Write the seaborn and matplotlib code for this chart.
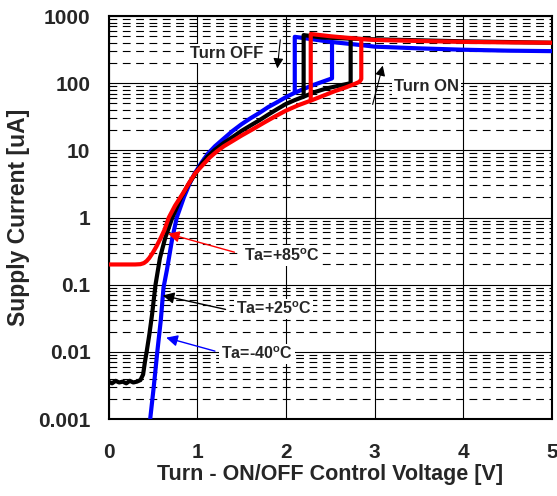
import matplotlib
matplotlib.use("Agg")
import matplotlib.pyplot as plt
import numpy as np
import pandas as pd
import seaborn as sns
from matplotlib.ticker import FixedLocator, FixedFormatter, NullFormatter

# ---------------- data ----------------
# Ta = -40 C (blue)
m40_lx = [0.47, 0.51, 0.55, 0.59, 0.62, 0.66, 0.72, 0.77, 0.85, 0.91, 0.97,
          1.05, 1.12, 1.20, 1.30, 1.40, 1.50, 1.60, 1.70, 1.80, 1.90, 2.00,
          2.10, 2.30, 2.52]
m40_ly = [0.001, 0.003, 0.01, 0.03, 0.09, 0.17, 0.5, 1.0, 2.0, 3.1, 4.5,
          6.6, 8.9, 11.5, 15, 19.5, 24.5, 30, 36, 44, 52, 62,
          72, 93, 118]
m40_off, m40_on = 2.10, 2.52
m40_px = [2.10, 2.30, 2.52, 2.80, 3.00, 3.50, 4.00, 4.50, 5.00]
m40_py = [490, 450, 410, 375, 350, 330, 315, 305, 300]

# Ta = +25 C (black)
p25_lx = [0.00, 0.04, 0.08, 0.12, 0.16, 0.20, 0.24, 0.28, 0.32, 0.36, 0.39,
          0.41, 0.43, 0.46, 0.49, 0.53, 0.58, 0.64, 0.72, 0.82, 0.90, 0.98,
          1.05, 1.12, 1.20, 1.30, 1.40, 1.50, 1.60, 1.70, 1.80, 1.90, 2.00,
          2.10, 2.20, 2.33, 2.45, 2.60, 2.73]
p25_ly = [0.0036, 0.0034, 0.0037, 0.0035, 0.0036, 0.0034, 0.0037, 0.0035, 0.0036,
          0.0038, 0.0046, 0.007, 0.01, 0.018, 0.035, 0.1, 0.25, 0.5, 1.0, 2.0,
          3.1, 4.5, 6.3, 8.1, 10.2, 12.9, 15.8, 19.5, 23.4, 28, 34, 41, 49,
          56, 63, 74, 83, 92, 100]
p25_off, p25_on = 2.20, 2.73
p25_px = [2.20, 2.40, 2.73, 3.00, 3.50, 4.00, 4.50, 5.00]
p25_py = [520, 480, 460, 450, 435, 420, 410, 400]

# Ta = +85 C (red)
p85_lx = [0.00, 0.30, 0.36, 0.40, 0.43, 0.46, 0.50, 0.54, 0.59, 0.63, 0.68,
          0.75, 0.84, 0.91, 0.98, 1.06, 1.14, 1.22, 1.30, 1.40, 1.50, 1.62,
          1.75, 1.87, 2.00, 2.14, 2.28, 2.42, 2.55, 2.68, 2.78, 2.83, 2.85]
p85_ly = [0.2, 0.2, 0.202, 0.21, 0.225, 0.25, 0.3, 0.37, 0.5, 0.65, 1.0,
          1.5, 2.3, 3.3, 4.6, 6.0, 7.8, 9.6, 11.5, 13.8, 16.6, 20.4,
          25.7, 31.6, 39, 47, 55, 65, 76, 87, 98, 105, 115]
p85_off, p85_on = 2.28, 2.85
p85_px = [2.28, 2.50, 2.85, 3.00, 3.50, 4.00, 4.50, 5.00]
p85_py = [540, 500, 455, 440, 425, 412, 405, 400]

y_ticks = [0.001, 0.01, 0.1, 1, 10, 100, 1000]
y_tick_labels = ["0.001", "0.01", "0.1", "1", "10", "100", "1000"]
x_ticks = [0, 1, 2, 3, 4, 5]
x_tick_labels = ["0", "1", "2", "3", "4", "5"]


def build(name, lx, ly, x_off, x_on, px, py):
    rows = []
    i_off = lx.index(x_off)
    i_on = lx.index(x_on)
    # branch A: lower curve up to turn-OFF point, jump, then high branch to 5 V
    for x, y in zip(lx[:i_off + 1], ly[:i_off + 1]):
        rows.append((x, y, name, name + "A"))
    for x, y in zip(px, py):
        rows.append((x, y, name, name + "A"))
    # branch B: lower curve from turn-OFF to turn-ON point, then jump up
    for x, y in zip(lx[i_off:i_on + 1], ly[i_off:i_on + 1]):
        rows.append((x, y, name, name + "B"))
    rows.append((x_on, py[px.index(x_on)], name, name + "B"))
    return rows


rows = []
rows += build("-40", m40_lx, m40_ly, m40_off, m40_on, m40_px, m40_py)
rows += build("+25", p25_lx, p25_ly, p25_off, p25_on, p25_px, p25_py)
rows += build("+85", p85_lx, p85_ly, p85_off, p85_on, p85_px, p85_py)
df = pd.DataFrame(rows, columns=["V", "I", "Ta", "seg"])

# ---------------- style ----------------
sns.set_style("white")
plt.rcParams["font.family"] = ["Liberation Sans", "DejaVu Sans"]
plt.rcParams["font.weight"] = "bold"
plt.rcParams["mathtext.fontset"] = "custom"
plt.rcParams["mathtext.rm"] = "Liberation Sans:bold"
plt.rcParams["mathtext.bf"] = "Liberation Sans:bold"
plt.rcParams["mathtext.default"] = "bf"

fig = plt.figure(figsize=(5.57, 4.96), dpi=100)
ax = fig.add_axes([0.1948, 0.1552, 0.7962, 0.8125])

palette = {"-40": "#0000FF", "+25": "#000000", "+85": "#FF0000"}
sns.lineplot(data=df, x="V", y="I", hue="Ta", units="seg", estimator=None,
             sort=False, palette=palette, hue_order=["-40", "+25", "+85"],
             linewidth=3.0, legend=False, ax=ax, zorder=3)
for ln in ax.get_lines():
    ln.set_solid_joinstyle("round")
    ln.set_solid_capstyle("butt")

ax.set_yscale("log")
ax.set_xlim(0, 5)
ax.set_ylim(0.001, 1000)

ax.yaxis.set_major_locator(FixedLocator(y_ticks))
ax.yaxis.set_major_formatter(FixedFormatter(y_tick_labels))
minor_y = [m * 10.0 ** e for e in range(-3, 3) for m in range(2, 10)]
ax.yaxis.set_minor_locator(FixedLocator(minor_y))
ax.yaxis.set_minor_formatter(NullFormatter())
ax.xaxis.set_major_locator(FixedLocator(x_ticks))
ax.xaxis.set_major_formatter(FixedFormatter(x_tick_labels))
ax.xaxis.set_minor_locator(FixedLocator([0.5, 1.5, 2.5, 3.5, 4.5]))

ax.grid(which="major", axis="both", color="black", linewidth=0.8, linestyle="-", zorder=1)
ax.grid(which="minor", axis="y", color="black", linewidth=0.8,
        linestyle=(0, (7, 5)), zorder=1)
ax.set_axisbelow(True)

ax.tick_params(axis="both", which="major", length=0, labelsize=15)
ax.tick_params(axis="x", which="major", pad=17)
ax.tick_params(axis="y", which="major", pad=13)
ax.tick_params(axis="both", which="minor", direction="in", length=4,
               width=0.8, color="black")
for lab in ax.get_xticklabels() + ax.get_yticklabels():
    lab.set_fontweight("bold")

for sp in ax.spines.values():
    sp.set_color("black")
    sp.set_linewidth(1.5)

ax.set_xlabel("Turn - ON/OFF Control Voltage [V]", fontsize=15.5,
              fontweight="bold", labelpad=2)
ax.set_ylabel("Supply Current [uA]", fontsize=16.5, fontweight="bold", labelpad=6)

# ---------------- annotations ----------------
box = dict(facecolor="white", edgecolor="none", pad=1.5)
ax.text(1.33, 272, "Turn OFF", fontsize=12, fontweight="bold", ha="center",
        va="center", bbox=box, zorder=4)
ax.annotate("", xy=(1.90, 151), xytext=(1.94, 487),
            arrowprops=dict(arrowstyle="-|>", color="black", lw=0.8,
                            mutation_scale=15), zorder=4)
ax.text(3.59, 88, "Turn ON", fontsize=12, fontweight="bold", ha="center",
        va="center", bbox=box, zorder=4)
ax.annotate("", xy=(3.10, 200), xytext=(2.97, 44),
            arrowprops=dict(arrowstyle="-|>", color="black", lw=0.8,
                            mutation_scale=15), zorder=4)

labels = [("Ta=+85$^{\\mathbf{o}}$C", 1.95, 0.27, 1.45, 0.297, 0.64, 0.59, "#FF0000"),
          ("Ta=+25$^{\\mathbf{o}}$C", 1.86, 0.0436, 1.35, 0.042, 0.58, 0.0705, "#000000"),
          ("Ta=-40$^{\\mathbf{o}}$C", 1.67, 0.0093, 1.23, 0.010, 0.62, 0.0167, "#0000FF")]
for txt, tx, ty, ax0, ay0, hx, hy, c in labels:
    ax.text(tx, ty, txt, fontsize=11.5, fontweight="bold", ha="center",
            va="center", bbox=box, zorder=4)
    ax.annotate("", xy=(hx, hy), xytext=(ax0, ay0),
                arrowprops=dict(arrowstyle="-|>", color=c, lw=1.0,
                                mutation_scale=17), zorder=5)

fig.savefig("out.png", dpi=100)
